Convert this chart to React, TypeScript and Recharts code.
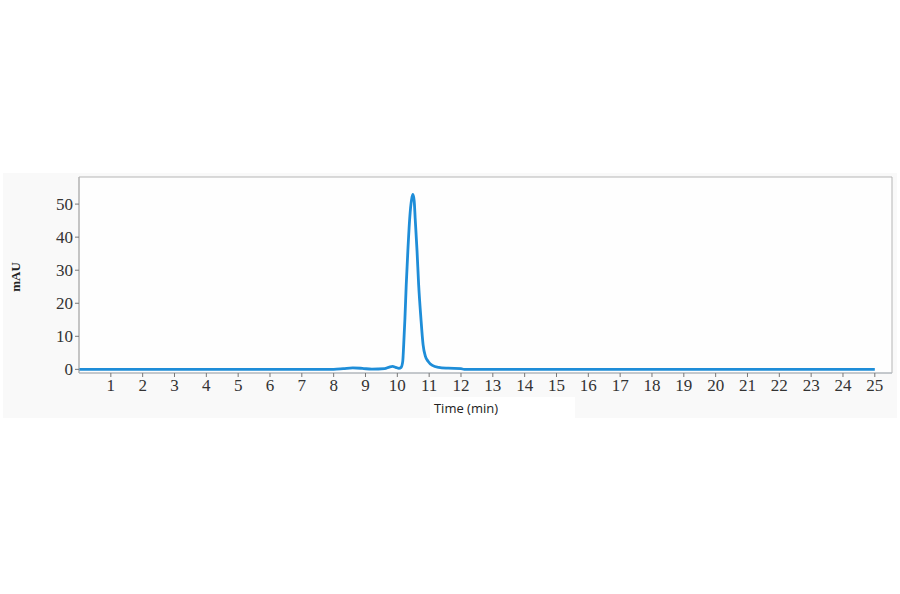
import React from 'react';
import {
  LineChart,
  Line,
  XAxis,
  YAxis,
  ReferenceArea,
} from 'recharts';

// Chromatogram trace (time in min, absorbance in mAU)
const TIMES = [
  0, 8.0, 8.3, 8.6, 8.9, 9.2, 9.6, 9.75, 9.85, 9.95, 10.05, 10.12, 10.17,
  10.2, 10.24, 10.28, 10.33, 10.39, 10.45, 10.49, 10.53, 10.56, 10.62, 10.67,
  10.74, 10.81, 10.88, 10.97, 11.1, 11.3, 11.6, 12.0, 12.1, 25,
];
const MAU = [
  0, 0, 0.2, 0.45, 0.3, 0.05, 0.2, 0.7, 0.9, 0.6, 0.3, 0.6, 2.4,
  7.4, 15.6, 25.6, 35.7, 45.8, 51.5, 52.9, 51.0, 45.8, 35.7, 25.6,
  15.6, 7.4, 4.0, 2.4, 1.2, 0.6, 0.35, 0.2, 0, 0,
];

const X_TICKS = [
  1, 2, 3, 4, 5, 6, 7, 8, 9, 10, 11, 12, 13, 14, 15, 16, 17, 18, 19, 20, 21,
  22, 23, 24, 25,
];
const Y_TICKS = [0, 10, 20, 30, 40, 50];

const X_MAX = 25.54;
const Y_MIN = -1.1;
const Y_MAX = 58.2;

const data = TIMES.map((t, i) => ({ t, v: MAU[i] }));

const tickFont = {
  fill: '#333',
  fontSize: 17,
  fontFamily: '"Liberation Serif", "DejaVu Serif", serif',
};

export default function App() {
  return (
    <div
      style={{
        position: 'absolute',
        left: 0,
        top: 0,
        width: 900,
        height: 594,
        background: '#fff',
        overflow: 'hidden',
      }}
    >
      {/* faint grey panel behind the chart */}
      <div
        style={{
          position: 'absolute',
          left: 3,
          top: 173,
          width: 894,
          height: 245,
          background: '#f9f9f9',
        }}
      />
      <div
        style={{
          position: 'absolute',
          left: 430,
          top: 397,
          width: 145,
          height: 21,
          background: '#fff',
        }}
      />
      <div style={{ position: 'absolute', left: 0, top: 0 }}>
        <LineChart
          width={900}
          height={594}
          data={data}
          margin={{ top: 177, right: 8, bottom: 191, left: 19 }}
        >
          <XAxis
            dataKey="t"
            type="number"
            domain={[0, X_MAX]}
            ticks={X_TICKS}
            allowDataOverflow
            height={30}
            tickSize={4}
            tick={tickFont}
            axisLine={{ stroke: '#b0b8c0' }}
            tickLine={{ stroke: '#777' }}
          />
          <YAxis
            type="number"
            domain={[Y_MIN, Y_MAX]}
            ticks={Y_TICKS}
            allowDataOverflow
            width={60}
            tickSize={4}
            tick={tickFont}
            axisLine={{ stroke: '#b0b0b0' }}
            tickLine={{ stroke: '#777' }}
          />
          <ReferenceArea
            x1={0}
            x2={X_MAX}
            y1={Y_MIN}
            y2={Y_MAX}
            fill="#fefefe"
            fillOpacity={1}
            stroke="#b5b5b5"
            strokeWidth={1}
          />
          <Line
            type="monotone"
            dataKey="v"
            stroke="#1e8dd8"
            strokeWidth={2.8}
            dot={false}
            isAnimationActive={false}
          />
        </LineChart>
      </div>
      <div
        style={{
          position: 'absolute',
          left: 16,
          top: 277,
          transform: 'translate(-50%, -50%) rotate(-90deg)',
          fontFamily: '"Liberation Serif", serif',
          fontWeight: 'bold',
          fontSize: 13,
          color: '#222',
          whiteSpace: 'nowrap',
        }}
      >
        mAU
      </div>
      <div
        style={{
          position: 'absolute',
          left: 466,
          top: 408,
          transform: 'translate(-50%, -50%)',
          fontFamily: '"Open Sans", "Noto Sans", sans-serif',
          fontSize: 13,
          color: '#222',
          whiteSpace: 'nowrap',
        }}
      >
        Time (min)
      </div>
    </div>
  );
}
